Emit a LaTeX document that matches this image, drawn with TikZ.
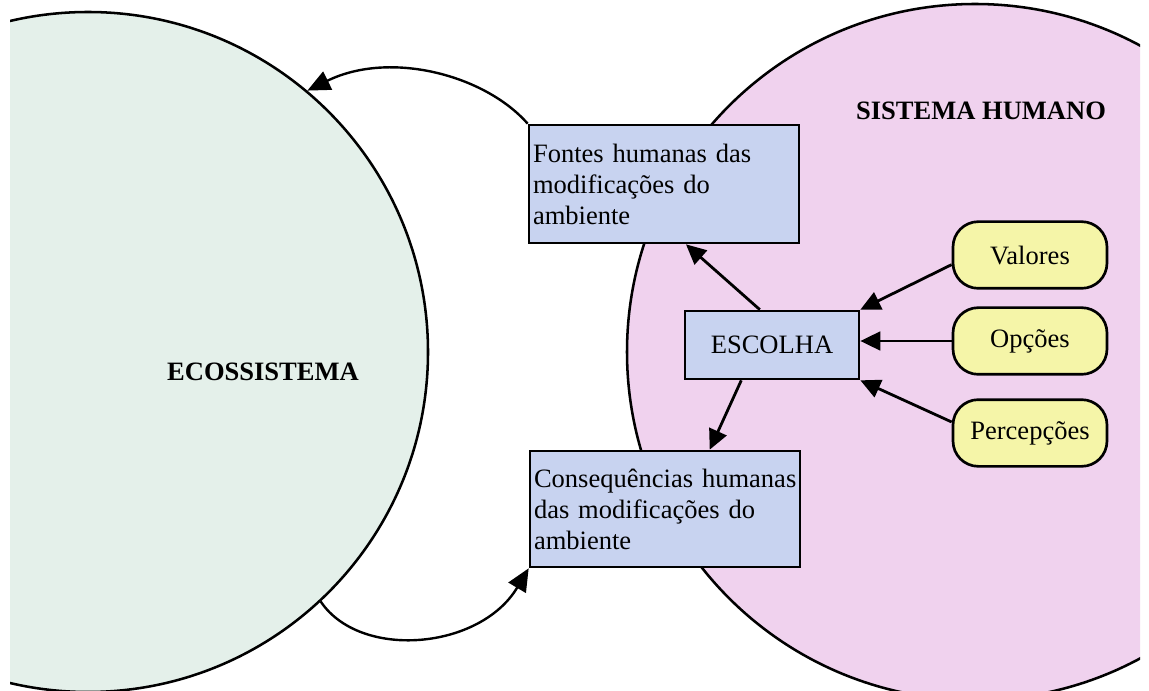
\documentclass[tikz,border=0pt]{standalone}
\usepackage{fontspec}
\setmainfont{Liberation Serif}
\usetikzlibrary{arrows.meta,calc}
\definecolor{ecofill}{RGB}{228,240,234}
\definecolor{humfill}{RGB}{240,210,238}
\definecolor{boxfill}{RGB}{200,211,240}
\definecolor{yelfill}{RGB}{245,245,168}
\begin{document}
\begin{tikzpicture}[x=0.75pt,y=-0.75pt,
  txt/.style={font=\fontsize{19.9}{23.25}\selectfont},
  ttl/.style={font=\bfseries\fontsize{19.9}{23.25}\selectfont},
  world/.style={circle,draw=black,line width=1.9pt,inner sep=0pt},
  bluebox/.style={rectangle,draw=black,line width=2pt,fill=boxfill,inner xsep=3pt,inner ysep=0pt,txt},
  yelbox/.style={rectangle,rounded corners=19pt,draw=black,line width=2pt,fill=yelfill,minimum width=115.5pt,minimum height=50pt,inner sep=0pt,txt},
  arr/.style={line width=2.1pt,-{Triangle[length=15pt,width=14pt]}},
  carr/.style={line width=1.8pt,-{Triangle[length=17pt,width=15pt]}}]
\useasboundingbox (0,0) rectangle (1149,691);
\fill[white] (0,0) rectangle (1149,691);
\begin{scope}
  \clip (10,0) rectangle (1140,691);
  \node[world,fill=ecofill,minimum size=510pt] (eco) at (88,352) {};
  \node[world,fill=humfill,minimum size=522pt] (hum) at (975,352) {};
\end{scope}
\node[ttl] (ecolabel) at (263,372) {ECOSSISTEMA};
\node[ttl] (humlabel) at (981,111) {SISTEMA HUMANO};
\node[bluebox,text width=196.5pt,align=left,minimum height=88.5pt] (fontes) at (664,184)
  {\mbox{Fontes humanas das}\\\mbox{modificações do}\\ambiente};
\node[bluebox,text width=196.5pt,align=left,minimum height=87pt] (cons) at (665,509)
  {\mbox{Consequências humanas}\\\mbox{das modificações do}\\ambiente};
\node[bluebox,minimum width=130.5pt,minimum height=51pt] (esc) at (772,345) {ESCOLHA};
\node[yelbox] (val) at (1030,255) {Valores};
\node[yelbox] (opc) at (1030,341) {Opções};
\node[yelbox] (per) at (1030,433) {Percepções};
\draw[arr] (esc.109) -- (fontes.-70);
\draw[arr] (esc.-131) -- (cons.53);
\draw[arr] (val.187) -- (esc.north east);
\draw[arr] (opc.west) -- (opc.west -| esc.east);
\draw[arr] (per.172) -- (esc.south east);
\draw[carr] (fontes.north west) .. controls (485,75) and (390,50) .. (eco.50);
\draw[carr] (eco.-47) .. controls (360,660) and (480,650) .. (cons.south west);
\end{tikzpicture}
\end{document}
